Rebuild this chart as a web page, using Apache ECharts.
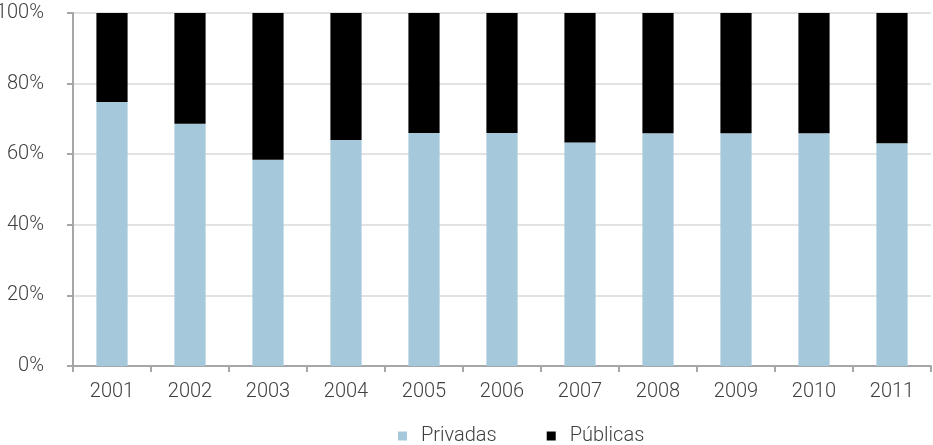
<!DOCTYPE html>
<html>
<head>
<meta charset="utf-8">
<script src="https://cdn.jsdelivr.net/npm/echarts@6/dist/echarts.min.js"></script>
<style>
    html, body { margin: 0; padding: 0; background: #fff; }
    #chart { width: 933px; height: 445px; }
</style>
</head>
<body>
<div id="chart"></div>
<script type="text/javascript">
    // datos
    var years = ['2001', '2002', '2003', '2004', '2005', '2006', '2007', '2008', '2009', '2010', '2011'];
    var privadas = [74.8, 68.6, 58.4, 64.0, 66.0, 66.0, 63.3, 65.9, 65.9, 65.9, 63.1];
    var publicas = [25.2, 31.4, 41.6, 36.0, 34.0, 34.0, 36.7, 34.1, 34.1, 34.1, 36.9];
    var yTicks = ['0%', '20%', '40%', '60%', '80%', '100%'];

    var font = '"Liberation Sans Narrow", Roboto, sans-serif';
    var chart = echarts.init(document.getElementById('chart'));

    var options = {
        animation: false,
        grid: {
            left: 73,
            right: 2,
            top: 13,
            bottom: 79,
            outerBoundsMode: 'none',
            containLabel: false
        },
        legend: {
            top: 421,
            left: 393,
            itemWidth: 9,
            itemHeight: 9,
            itemGap: 50,
            icon: 'rect',
            textStyle: {
                fontFamily: font,
                fontSize: 20,
                fontWeight: 300,
                color: '#404040',
                padding: [0, 0, 0, 9]
            },
            data: ['Privadas', 'Públicas']
        },
        xAxis: {
            type: 'category',
            data: years,
            axisLine: { lineStyle: { color: '#a6a6a6', width: 2 } },
            axisTick: { show: true, alignWithLabel: false, length: 6, lineStyle: { color: '#a6a6a6', width: 2 } },
            axisLabel: {
                margin: 16,
                fontFamily: font,
                fontSize: 20,
                fontWeight: 300,
                color: '#404040'
            }
        },
        yAxis: {
            type: 'value',
            min: 0,
            max: 100,
            interval: 20,
            axisLine: { show: true, lineStyle: { color: '#a6a6a6', width: 2 } },
            axisTick: { show: true, length: 6, lineStyle: { color: '#a6a6a6', width: 2 } },
            splitLine: { lineStyle: { color: '#d9d9d9', width: 1.5 } },
            axisLabel: {
                margin: 29,
                fontFamily: font,
                fontSize: 20,
                fontWeight: 300,
                color: '#404040',
                formatter: function (v) {
                    return yTicks[Math.round(v / 20)];
                }
            }
        },
        series: [
            {
                name: 'Privadas',
                type: 'bar',
                stack: 'total',
                barWidth: '40%',
                itemStyle: { color: '#a5c8da' },
                data: privadas
            },
            {
                name: 'Públicas',
                type: 'bar',
                stack: 'total',
                barWidth: '40%',
                itemStyle: { color: '#000000' },
                data: publicas
            }
        ]
    };
    chart.setOption(options);
</script>
</body>
</html>
